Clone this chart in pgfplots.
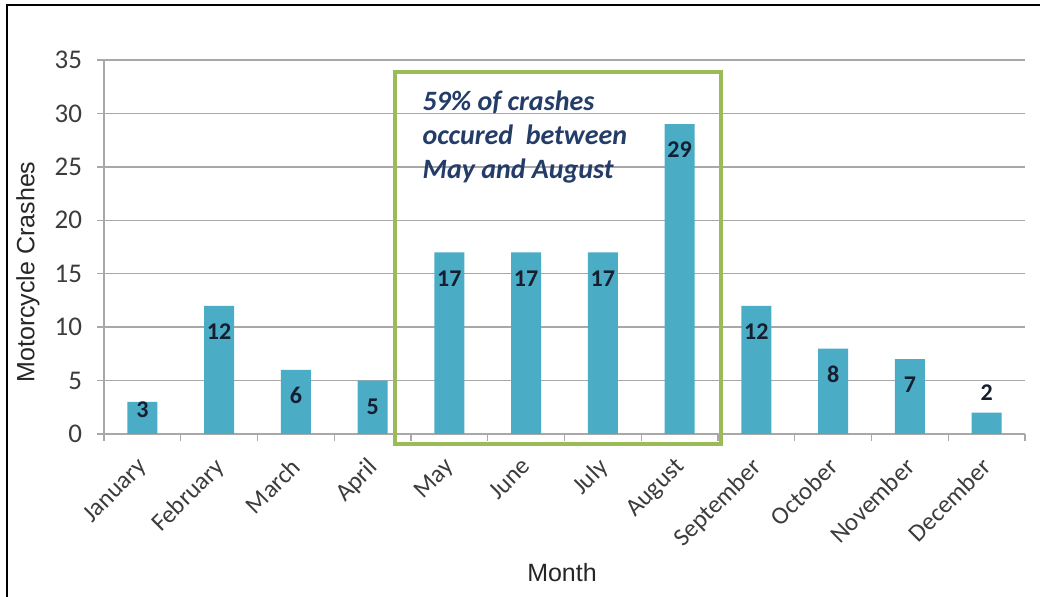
\documentclass[border=0pt]{standalone}
\usepackage{pgfplots}
\pgfplotsset{compat=1.18}
\usepackage{fontspec}
\setmainfont{Carlito}
\newfontfamily\arialf{Liberation Sans}

\definecolor{barcol}{RGB}{75,172,198}
\definecolor{gridcol}{RGB}{168,168,168}
\definecolor{boxgreen}{RGB}{155,187,89}
\definecolor{notecol}{RGB}{36,60,104}
\definecolor{valcol}{RGB}{22,30,48}
\definecolor{ticktext}{RGB}{60,60,60}

\begin{document}
\begin{tikzpicture}
% 1 px of the reference = 0.5pt
\useasboundingbox (0,0) rectangle (520pt,298.5pt);
\draw[line width=1pt] (3.5pt,0) -- (3.5pt,296pt) -- (521pt,296pt);

\begin{axis}[
  at={(52pt,81.5pt)}, anchor=south west,
  scale only axis, width=460.5pt, height=187pt,
  clip=false,
  xmin=-0.5, xmax=11.5,
  ymin=0, ymax=35,
  ytick={0,5,...,35},
  xtick={0,...,11},
  xticklabels={January,February,March,April,May,June,July,August,September,October,November,December},
  minor xtick={-0.5,0.5,...,11.5},
  axis x line*=bottom, axis y line*=left,
  axis line style={gridcol, line width=0.7pt, -},
  ymajorgrids, major grid style={gridcol, line width=0.7pt},
  tick align=outside,
  tick style={gridcol, line width=0.7pt},
  major tick length=3.5pt, minor tick length=3.5pt,
  major x tick style={draw=none},
  /pgf/number format/assume math mode=true,
  tick label style={font=\fontsize{12.5pt}{15pt}\selectfont, text=ticktext},
  yticklabel style={xshift=-4pt, font=\fontsize{13.5pt}{15pt}\selectfont},
  xticklabel style={xshift=-3pt, yshift=-7.5pt, rotate=45, anchor=north east, inner sep=0pt},
  ybar, bar width=15pt,
  nodes near coords,
  nodes near coords style={font=\bfseries\fontsize{12pt}{14pt}\selectfont, text=valcol, anchor=center, yshift=-13pt},
]
\addplot[fill=barcol, draw=none,
  coordinate style/.condition={x==0}{yshift=9pt},
  coordinate style/.condition={x==11}{yshift=23pt}]
  coordinates {(0,3) (1,12) (2,6) (3,5) (4,17) (5,17) (6,17) (7,29) (8,12) (9,8) (10,7) (11,2)};

\draw[boxgreen, line width=1.75pt] (axis cs:3.29,-0.94) rectangle (axis cs:7.54,33.88);
\node[anchor=north west, inner sep=0pt, align=left, text=notecol,
  font=\bfseries\itshape\fontsize{14pt}{17pt}\selectfont]
  at (axis cs:3.645,32.19) {59\% of crashes\\occured\ \ between\\May and August};
\end{axis}

\node[rotate=90, font=\arialf\fontsize{12.5pt}{15pt}\selectfont, text=black!85] at (14pt,162.5pt) {Motorcycle Crashes};
\node[font=\arialf\fontsize{12.5pt}{15pt}\selectfont, text=black!85] at (281pt,12pt) {Month};
\end{tikzpicture}
\end{document}
